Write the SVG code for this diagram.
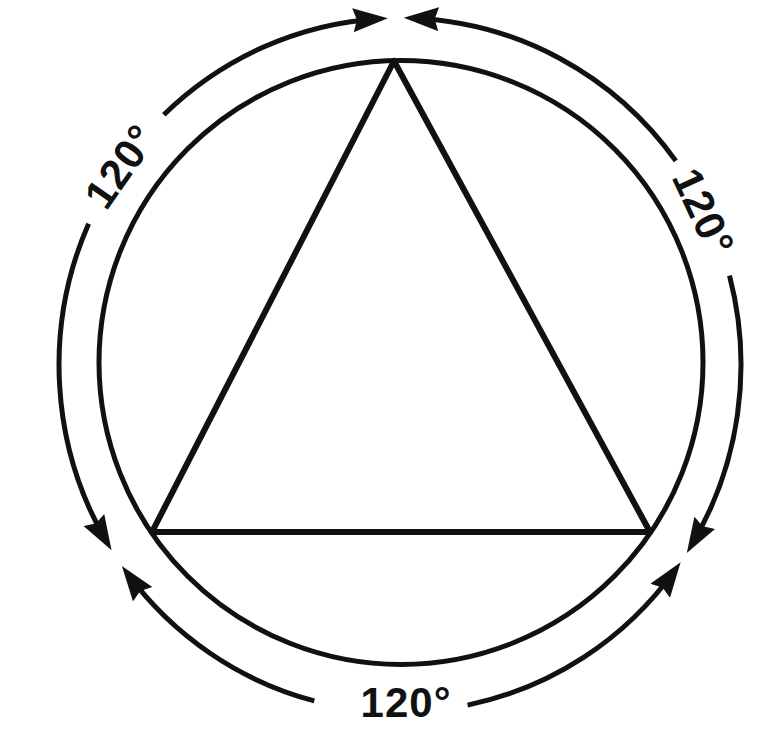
<svg xmlns="http://www.w3.org/2000/svg" width="762" height="738" viewBox="0 0 762 738">
  <style>
    .ln { fill: none; stroke: #111; stroke-width: 5; stroke-linecap: butt; }
    .arc { fill: none; stroke: #111; stroke-width: 5; marker-end: url(#ah); }
    .tri { stroke: #111; stroke-width: 6; stroke-linecap: round; }
    .lbl { font-family: "Liberation Sans", Arial, sans-serif; font-size: 42px; font-weight: bold; fill: #111; text-anchor: middle; letter-spacing: 1px; }
  </style>
  <defs>
    <marker id="ah" markerUnits="userSpaceOnUse" markerWidth="38" markerHeight="26" refX="26" refY="12" orient="auto">
      <path d="M0,0 L35,12 L0,24 L4,12 Z" fill="#111"/>
    </marker>
  </defs>
  <rect width="762" height="738" fill="#fff"/>

  <g id="circle">
    <circle cx="401" cy="362.5" r="302" class="ln"/>
  </g>

  <g id="triangle">
    <line x1="394" y1="61" x2="152" y2="532" class="tri"/>
    <line x1="394" y1="61" x2="650" y2="532" class="tri"/>
    <line x1="152" y1="532" x2="650" y2="532" class="tri" stroke-width="8"/>
  </g>

  <g id="connectors">
    <path class="arc" d="M163.8,114.8 A341,347 0 0 1 378.9,18.7"/>
    <path class="arc" d="M88.6,223.7 A341,347 0 0 0 107.0,542.5"/>
    <path class="arc" d="M675.8,160.9 A341,347 0 0 0 412.7,18.2"/>
    <path class="arc" d="M729.5,275.7 A341,347 0 0 1 691.4,545.2"/>
    <path class="arc" d="M314.3,700.9 A341,347 0 0 1 127.2,573.3"/>
    <path class="arc" d="M467.6,705.1 A341,347 0 0 0 675.4,569.6"/>
  </g>

  <g id="labels">
    <text class="lbl" transform="translate(120,166) rotate(-55)" x="0" y="15">120°</text>
    <text class="lbl" transform="translate(704,212) rotate(65)" x="0" y="15">120°</text>
    <text class="lbl" x="406" y="717">120°</text>
  </g>
</svg>
